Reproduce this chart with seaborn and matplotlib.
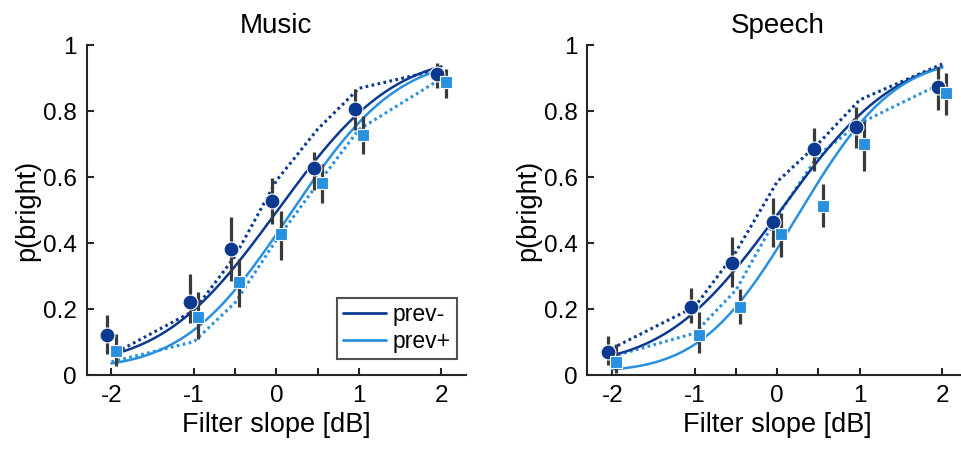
import math
import numpy as np
import pandas as pd
import matplotlib
matplotlib.use("Agg")
import matplotlib.pyplot as plt
import seaborn as sns

# Stimulus levels (filter slope, dB)
levels = [-2, -1, -0.5, 0, 0.5, 1, 2]
tick_labels = ["-2", "-1", "", "0", "", "1", "2"]

# Observed proportions "bright" with error-bar limits
music_prev_minus = [0.12, 0.223, 0.382, 0.529, 0.627, 0.808, 0.913]
music_prev_minus_lo = [0.064, 0.157, 0.286, 0.458, 0.560, 0.744, 0.870]
music_prev_minus_hi = [0.181, 0.306, 0.478, 0.599, 0.678, 0.867, 0.948]
music_prev_plus = [0.074, 0.177, 0.281, 0.427, 0.584, 0.728, 0.888]
music_prev_plus_lo = [0.027, 0.108, 0.207, 0.349, 0.523, 0.670, 0.840]
music_prev_plus_hi = [0.124, 0.251, 0.351, 0.499, 0.641, 0.786, 0.928]

speech_prev_minus = [0.071, 0.207, 0.341, 0.463, 0.685, 0.752, 0.873]
speech_prev_minus_lo = [0.030, 0.157, 0.268, 0.388, 0.620, 0.688, 0.803]
speech_prev_minus_hi = [0.118, 0.263, 0.420, 0.536, 0.749, 0.812, 0.936]
speech_prev_plus = [0.040, 0.121, 0.207, 0.427, 0.514, 0.701, 0.855]
speech_prev_plus_lo = [0.005, 0.066, 0.155, 0.357, 0.448, 0.620, 0.789]
speech_prev_plus_hi = [0.094, 0.190, 0.261, 0.493, 0.580, 0.771, 0.916]

# Model predictions at each level (dotted)
music_model_minus = [0.061, 0.195, 0.361, 0.59, 0.746, 0.870, 0.928]
music_model_plus = [0.040, 0.101, 0.22, 0.41, 0.58, 0.745, 0.90]
speech_model_minus = [0.081, 0.207, 0.374, 0.587, 0.703, 0.835, 0.944]
speech_model_plus = [0.056, 0.127, 0.258, 0.481, 0.668, 0.764, 0.886]

# Psychometric fit parameters: (mu, sigma, guess, lapse)
music_fit_minus = (0.015, 1.10, 0.03, 0.03)
music_fit_plus = (0.17, 1.013, 0.02, 0.04)
speech_fit_minus = (0.04, 1.10, 0.03, 0.03)
speech_fit_plus = (0.25, 0.92, 0.01, 0.04)

DARK = "#0b3990"
LIGHT = "#2990e0"
BAR = "#3a3a3a"
OFFSET = 0.05

_erf = np.vectorize(math.erf)


def psychometric(x, mu, sigma, guess, lapse):
    cdf = 0.5 * (1.0 + _erf((x - mu) / (sigma * math.sqrt(2.0))))
    return guess + (1.0 - guess - lapse) * cdf


sns.set_theme(style="ticks")
plt.rcParams["font.family"] = ["Liberation Sans", "DejaVu Sans"]
plt.rcParams["text.color"] = "black"
plt.rcParams["axes.labelcolor"] = "black"

fig = plt.figure(figsize=(9.62, 4.49), dpi=100)
ax_music = fig.add_axes([0.0901, 0.1648, 0.3945, 0.7339])
ax_speech = fig.add_axes([0.6107, 0.1648, 0.3945, 0.7339])

panels = [
    (ax_music, "Music",
     (music_prev_minus, music_prev_minus_lo, music_prev_minus_hi),
     (music_prev_plus, music_prev_plus_lo, music_prev_plus_hi),
     music_model_minus, music_model_plus, music_fit_minus, music_fit_plus),
    (ax_speech, "Speech",
     (speech_prev_minus, speech_prev_minus_lo, speech_prev_minus_hi),
     (speech_prev_plus, speech_prev_plus_lo, speech_prev_plus_hi),
     speech_model_minus, speech_model_plus, speech_fit_minus, speech_fit_plus),
]

xs = np.linspace(-2, 2, 200)

for ax, title, obs_minus, obs_plus, mod_minus, mod_plus, fit_minus, fit_plus in panels:
    # dotted model predictions
    sns.lineplot(x=levels, y=mod_minus, ax=ax, color=DARK, lw=2.2,
                 linestyle=(0, (0.9, 1.1)), zorder=2)
    sns.lineplot(x=levels, y=mod_plus, ax=ax, color=LIGHT, lw=2.2,
                 linestyle=(0, (0.9, 1.1)), zorder=2)
    # fitted psychometric curves
    fits = pd.DataFrame({
        "x": np.concatenate([xs, xs]),
        "p": np.concatenate([psychometric(xs, *fit_minus), psychometric(xs, *fit_plus)]),
        "cond": ["prev-"] * len(xs) + ["prev+"] * len(xs),
    })
    sns.lineplot(data=fits, x="x", y="p", hue="cond", ax=ax,
                 palette={"prev-": DARK, "prev+": LIGHT}, lw=1.8, zorder=3,
                 legend=(ax is ax_music))

    # data points with error bars
    for (vals, lo, hi), color, marker, size, shift in [
        (obs_minus, DARK, "o", 115, -OFFSET),
        (obs_plus, LIGHT, "s", 78, OFFSET),
    ]:
        xpos = np.array(levels) + shift
        ax.vlines(xpos, lo, hi, color=BAR, lw=2.3, zorder=4)
        sns.scatterplot(x=xpos, y=vals, ax=ax, color=color, marker=marker,
                        s=size, edgecolor="white", linewidth=0.8, zorder=5)

    ax.set_xlim(-2.3, 2.3)
    ax.set_ylim(0, 1)
    ax.set_xticks(levels)
    ax.set_xticklabels(tick_labels)
    ax.set_yticks([0, 0.2, 0.4, 0.6, 0.8, 1])
    ax.set_yticklabels(["0", "0.2", "0.4", "0.6", "0.8", "1"])
    ax.tick_params(direction="in", length=5, width=1.5, color="#262626",
                   labelsize=17.5, labelcolor="black", pad=7)
    for side in ("left", "bottom"):
        ax.spines[side].set_linewidth(1.5)
        ax.spines[side].set_color("#262626")
    sns.despine(ax=ax)
    ax.set_title(title, fontsize=20, pad=9, color="black")
    ax.set_xlabel("Filter slope [dB]", fontsize=19.5, labelpad=4, color="black")
    ax.set_ylabel("p(bright)", fontsize=19.5, labelpad=2, color="black")

leg = ax_music.legend(loc="lower right", bbox_to_anchor=(0.975, 0.05), fontsize=16.5,
                      frameon=True, fancybox=False, edgecolor="#262626",
                      handlelength=1.9, handletextpad=0.3, borderpad=0.25,
                      labelspacing=0.15, borderaxespad=0, labelcolor="black")
leg.get_frame().set_linewidth(1.5)
for line in leg.get_lines():
    line.set_linewidth(2.0)

fig.savefig("out.png", dpi=100)
